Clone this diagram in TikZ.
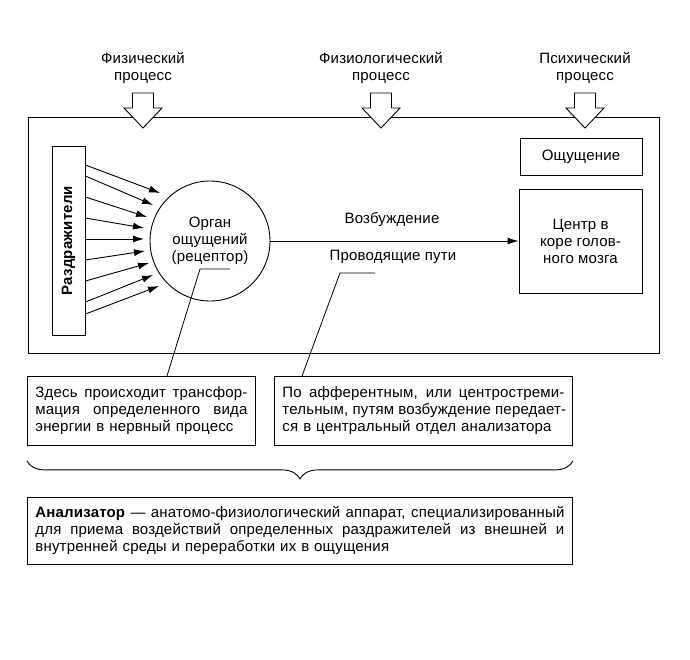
\documentclass[tikz,border=0pt]{standalone}
\usepackage{fontspec}
\setmainfont[LetterSpace=1.2]{Liberation Sans}
\usetikzlibrary{arrows.meta,shapes,decorations.pathreplacing,calc}
\newcommand\fillline[2]{\leavevmode\hbox to #1{\spaceskip=0.28em plus 1fil\relax #2}}

\begin{document}
\begin{tikzpicture}[x=1pt, y=-1pt, font=\fontsize{15}{17}\selectfont,
    box/.style={draw, line width=0.9pt, inner sep=0pt},
    note/.style={draw, line width=0.9pt, align=left, anchor=north west,
      inner xsep=8pt, inner ysep=0pt},
    stimtip/.style={-{Latex[length=11pt,width=7pt]}, line width=0.9pt},
    leader/.style={line width=0.8pt}]
  \useasboundingbox (0,0) rectangle (690,659);
  %\draw [help lines, step=10] (0,0) grid (690,659);
  \draw [line width=0.9pt] (28,117) rectangle (659,353);
  % three processes with block arrows
  \foreach \c/\txt in {143/Физический, 381/Физиологический, 585/Психический} {
    \node (proc\c) [align=center] at (\c,68) {\txt\\процесс};
    \draw [line width=0.9pt, fill=white] (\c-10.5,93) -- (\c+10.5,93) -- (\c+10.5,108)
      -- (\c+19,108) -- (\c,128) -- (\c-19,108) -- (\c-10.5,108) -- cycle;
  }
  \node (stim) [box, rotate=90, minimum width=189pt, minimum height=33pt,
    font=\fontsize{15}{17}\selectfont\bfseries] at (68.5,240.5) {Раздражители};
  \node (organ) [draw, circle, line width=0.9pt, minimum size=120pt, align=center]
    at (210,241) {Орган\\ощущений\\(рецептор)};
  \foreach \ys/\xe/\ye in {165/160/193, 176/153/205, 197/147/217, 218/144/228,
      239/144/239, 260/145/251, 281/149/263, 302/153/275, 314/159/286}
    \draw [stimtip] (stim.south |- 0,\ys) -- (\xe,\ye);
  \node (sens) [box, minimum width=122pt, minimum height=37pt] at (581,156.5) {Ощущение};
  \node (cortex) [box, minimum width=123pt, minimum height=104pt, align=center]
    at (580.5,241) {Центр в\\коре голов-\\ного мозга};
  \draw [stimtip] (organ) -- (cortex);
  \node (exc) at (392,220) {Возбуждение};
  \node (cond) at (393,257) {Проводящие пути};
  % notes
  \node (note1) [note, minimum width=228pt, minimum height=69pt, text width=212pt]
    at (27,376) {\fillline{212pt}{Здесь происходит трансфор-}\\\fillline{212pt}{мация определенного вида}\\энергии в нервный процесс};
  \node (note2) [note, minimum width=298pt, minimum height=69pt, text width=282pt]
    at (274,376) {\fillline{282pt}{По афферентным, или центростреми-}\\\fillline{282pt}{тельным, путям возбуждение передает-}\\ся в центральный отдел анализатора};
  \coordinate (l1) at (230,269);
  \coordinate (l2) at (375,273);
  \draw [leader] (l1) -- (200,269) -- ($(note1.north west)+(140,0)$);
  \draw [leader] (l2) -- (340,273) -- ($(note2.north west)+(28,0)$);
  \draw [decorate, decoration={brace, amplitude=18pt, mirror}, line width=0.9pt]
    ($(note1.south west)+(0,15)$) -- ($(note2.south east)+(0,15)$);
  \node (analyzer) [note, minimum width=545pt, minimum height=67pt, text width=529pt]
    at (27,497) {\fillline{529pt}{\textbf{Анализатор} — анатомо-физиологический аппарат, специализированный}\\\fillline{529pt}{для приема воздействий определенных раздражителей из внешней и}\\внутренней среды и переработки их в ощущения};
\end{tikzpicture}
\end{document}
